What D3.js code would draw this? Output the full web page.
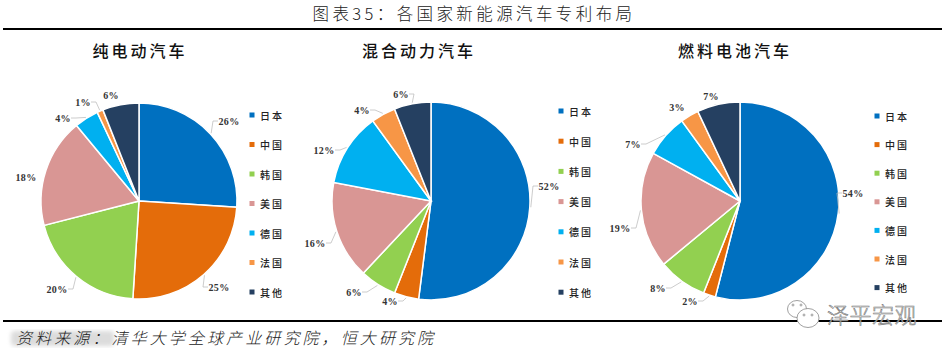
<!DOCTYPE html>
<html>
<head>
<meta charset="utf-8">
<script src="https://cdn.jsdelivr.net/npm/d3@7"></script>
<style>
html, body { margin: 0; padding: 0; background: #fff; }
svg { display: block; }
text { font-family: "Noto Sans CJK SC", sans-serif; }
.pct { font-family: "Liberation Serif", serif; font-weight: bold; font-size: 10px; letter-spacing: 0.3px; fill: #333; }
</style>
</head>
<body>
<svg id="chart" width="949" height="356"></svg>
<script>
const categories = ['日本', '中国', '韩国', '美国', '德国', '法国', '其他'];
const colors = ['#0070c0', '#e46c0a', '#92d050', '#d99694', '#00b0f0', '#f79646', '#254061'];

const pieTitles = ['纯电动汽车', '混合动力汽车', '燃料电池汽车'];
const evValues = [26, 25, 20, 18, 4, 1, 6];
const hybridValues = [52, 4, 6, 16, 12, 4, 6];
const fuelCellValues = [54, 2, 8, 19, 7, 3, 7];

// layout of each panel, label spots are relative to the pie centre
const panels = [
	{ values: evValues, cx: 139, cy: 201, r: 98, titleX: 140, legendX: 252, legendTop: 115, legendStep: 29.5,
	  labels: [[90, -80], [80, 86], [-82, 88], [-113, -24], [-76, -83], [-56, -99], [-28, -106]],
	  leaders: [true, true, true, false, true, true, false] },
	{ values: hybridValues, cx: 431, cy: 201, r: 99, titleX: 419, legendX: 561, legendTop: 111, legendStep: 30.2,
	  labels: [[118, -15], [-41, 100], [-77, 91], [-116, 42], [-107, -51], [-69, -91], [-30, -107]],
	  leaders: [true, true, true, true, true, true, true] },
	{ values: fuelCellValues, cx: 740, cy: 201, r: 99, titleX: 735, legendX: 877, legendTop: 116, legendStep: 28.6,
	  labels: [[113, -8], [-50, 100], [-82, 87], [-120, 27], [-107, -57], [-63, -94], [-29, -105]],
	  leaders: [true, true, true, true, true, false, false] }
];

const svg = d3.select('#chart');

svg.append('defs').append('filter')
	.attr('id', 'soft')
	.append('feGaussianBlur')
	.attr('stdDeviation', 2);

svg.append('text')
	.attr('x', 474)
	.attr('y', 20)
	.attr('text-anchor', 'middle')
	.attr('font-size', 16.5)
	.attr('font-weight', 300)
	.attr('letter-spacing', 3.4)
	.attr('fill', '#222')
	.text('图表35：各国家新能源汽车专利布局');

svg.append('rect').attr('x', 3).attr('y', 28).attr('width', 939).attr('height', 2).attr('fill', '#000');
svg.append('rect').attr('x', 3).attr('y', 320).attr('width', 939).attr('height', 2).attr('fill', '#000');

const pie = d3.pie().sort(null).value((d) => d);

panels.forEach((panel) => {
	const i = panels.indexOf(panel);
	const g = svg.append('g').attr('transform', `translate(${panel.cx},${panel.cy})`);
	const arc = d3.arc().innerRadius(0).outerRadius(panel.r);
	const slices = pie(panel.values);

	svg.append('text')
		.attr('x', panel.titleX)
		.attr('y', 57)
		.attr('text-anchor', 'middle')
		.attr('font-size', 16)
		.attr('font-weight', 500)
		.attr('letter-spacing', 3)
		.attr('fill', '#111')
		.text(pieTitles[i]);

	g.selectAll('path')
		.data(slices).enter()
		.append('path')
		.attr('d', arc)
		.attr('fill', (d, k) => colors[k])
		.attr('stroke', '#fff')
		.attr('stroke-width', 1.5);

	// thin grey leader lines, elbow sits just outside the label
	g.selectAll('.leader')
		.data(slices.filter((d, k) => panel.leaders[k])).enter()
		.append('polyline')
		.attr('class', 'leader')
		.attr('fill', 'none')
		.attr('stroke', '#bfbfbf')
		.attr('stroke-width', 0.8)
		.attr('points', (d) => {
			const mid = (d.startAngle + d.endAngle) / 2;
			const ex = Math.sin(mid) * (panel.r + 1);
			const ey = -Math.cos(mid) * (panel.r + 1);
			const [lx, ly] = panel.labels[d.index];
			const side = lx > 0 ? -1 : 1;
			const half = d.value >= 10 ? 11 : 8;
			return [[ex, ey], [lx + side * (half + 5), ly], [lx + side * half, ly]].join(' ');
		});

	g.selectAll('.pct')
		.data(slices).enter()
		.append('text')
		.attr('class', 'pct')
		.attr('x', (d) => panel.labels[d.index][0])
		.attr('y', (d) => panel.labels[d.index][1])
		.attr('text-anchor', 'middle')
		.attr('dominant-baseline', 'central')
		.text((d) => d.value + '%');

	const legendY = d3.scalePoint()
		.domain(categories)
		.range([panel.legendTop, panel.legendTop + panel.legendStep * (categories.length - 1)]);

	svg.selectAll('.swatch' + i)
		.data(categories).enter()
		.append('rect')
		.attr('class', 'swatch' + i)
		.attr('x', panel.legendX - 2.5)
		.attr('y', (d) => legendY(d) - 2.5)
		.attr('width', 5)
		.attr('height', 5)
		.attr('fill', (d, k) => colors[k]);

	svg.selectAll('.legend' + i)
		.data(categories).enter()
		.append('text')
		.attr('class', 'legend' + i)
		.attr('x', panel.legendX + 8)
		.attr('y', (d) => legendY(d))
		.attr('dominant-baseline', 'central')
		.attr('font-size', 10)
		.attr('font-weight', 500)
		.attr('letter-spacing', 2)
		.attr('fill', '#222')
		.text((d) => d);
});

// smudged watermark behind the start of the source line
svg.append('rect')
	.attr('x', 11).attr('y', 331).attr('width', 103).attr('height', 15)
	.attr('rx', 4)
	.attr('fill', '#dcdcdc')
	.attr('filter', 'url(#soft)');

svg.append('text')
	.attr('x', 16)
	.attr('y', 344)
	.attr('font-size', 16)
	.attr('font-style', 'italic')
	.attr('font-weight', 300)
	.attr('letter-spacing', 3.1)
	.attr('fill', '#222')
	.text('资料来源：清华大学全球产业研究院，恒大研究院');

// watermark, bottom right
const mark = svg.append('g').attr('fill', '#fff').attr('stroke', '#888').attr('stroke-width', 0.8);
mark.append('ellipse').attr('cx', 797).attr('cy', 309).attr('rx', 9.5).attr('ry', 8.5);
mark.append('ellipse').attr('cx', 808).attr('cy', 318).attr('rx', 11).attr('ry', 9.5);
mark.selectAll('.eye')
	.data([[793, 305], [801, 305], [804, 315], [812, 315]]).enter()
	.append('circle')
	.attr('class', 'eye')
	.attr('cx', (d) => d[0])
	.attr('cy', (d) => d[1])
	.attr('r', 1);

svg.append('text')
	.attr('x', 827)
	.attr('y', 323)
	.attr('font-size', 22)
	.attr('font-weight', 300)
	.attr('fill', '#fff')
	.attr('fill-opacity', 0.7)
	.attr('stroke', '#777')
	.attr('stroke-width', 0.6)
	.attr('letter-spacing', 0.5)
	.text('泽平宏观');
</script>
</body>
</html>
